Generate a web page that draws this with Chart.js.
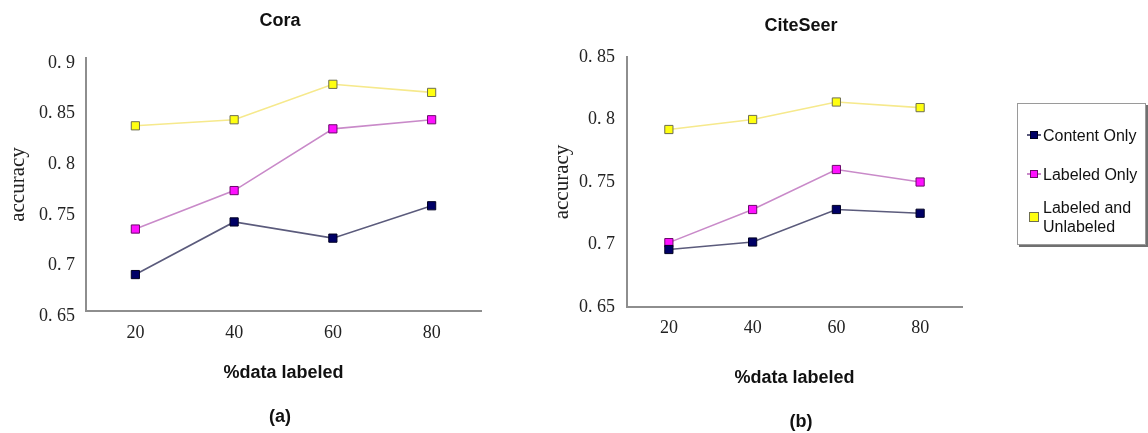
<!DOCTYPE html>
<html><head><meta charset="utf-8">
<script src="https://cdn.jsdelivr.net/npm/chart.js@4.4.1/dist/chart.umd.min.js"></script>
<style>
html,body{margin:0;padding:0;background:#fff;width:1148px;height:433px;overflow:hidden;position:relative}
#wa{position:absolute;left:0;top:0;width:560px;height:433px}
#wb{position:absolute;left:545px;top:0;width:512px;height:433px}
#legend{position:absolute;left:1017px;top:103px;width:127px;height:140px;border:1px solid #9a9a9a;box-shadow:2px 2px 0 #707070;background:#fff;font-family:"Liberation Sans",Arial,sans-serif;font-size:16px;color:#111}
.it{position:absolute;left:25px;line-height:19px}
.ln{position:absolute;height:2px}
.mk{position:absolute;width:8px;height:8px;box-sizing:border-box;border:1px solid #000}
</style></head><body>
<div id="wa"><canvas id="ca" width="560" height="433"></canvas></div>
<div id="wb"><canvas id="cb" width="512" height="433"></canvas></div>
<div id="legend"></div>
<script>
// ---- data ----
const categories = ['20', '40', '60', '80'];
const seriesNames = ['Content Only', 'Labeled Only', 'Labeled and Unlabeled'];
const coraContent = [0.686, 0.738, 0.722, 0.754];
const coraLabeled = [0.731, 0.769, 0.830, 0.839];
const coraBoth    = [0.833, 0.839, 0.874, 0.866];
const citeContent = [0.696, 0.702, 0.728, 0.725];
const citeLabeled = [0.7015, 0.728, 0.760, 0.750];
const citeBoth    = [0.792, 0.800, 0.814, 0.8095];
const coraTickValues = [0.65, 0.7, 0.75, 0.8, 0.85, 0.9];
const coraTickLabels = ['0. 65', '0. 7', '0. 75', '0. 8', '0. 85', '0. 9'];
const citeTickValues = [0.65, 0.7, 0.75, 0.8, 0.85];
const citeTickLabels = ['0. 65', '0. 7', '0. 75', '0. 8', '0. 85'];

// ---- styles ----
const styles = [
  {line: '#5b5b7c', fill: '#000066', border: '#000022'},
  {line: '#c98ac9', fill: '#ff10ff', border: '#6a0a6a'},
  {line: '#f6e98c', fill: '#ffff10', border: '#6e6e50'}
];
const serif = '"Liberation Serif", "DejaVu Serif", serif';
const sans = '"Liberation Sans", Arial, sans-serif';
const axisColor = '#8e8e8e';

function ds(values, i) {
  return {
    label: seriesNames[i], data: values,
    borderColor: styles[i].line, borderWidth: 1.6,
    backgroundColor: styles[i].fill,
    pointBackgroundColor: styles[i].fill, pointBorderColor: styles[i].border,
    pointBorderWidth: 1, pointStyle: 'rect', pointRadius: 5.8, tension: 0
  };
}

function makeChart(id, o) {
  return new Chart(document.getElementById(id), {
    type: 'line',
    data: { labels: categories, datasets: o.series.map((v, i) => ds(v, i)) },
    options: {
      responsive: false, animation: false,
      layout: { padding: 0 },
      plugins: {
        legend: { display: false }, tooltip: { enabled: false },
        title: { display: true, text: o.title, color: '#111',
          font: { family: sans, size: 18, weight: 'bold' },
          padding: { top: o.titleTop, bottom: o.titleBottom } },
        subtitle: { display: true, position: 'bottom', text: o.caption, color: '#111',
          font: { family: sans, size: 18, weight: 'bold' },
          padding: { top: 0, bottom: o.capBottom } }
      },
      scales: {
        x: {
          type: 'category', offset: true,
          grid: { display: false, drawTicks: false },
          border: { display: true, color: axisColor, width: 2 },
          ticks: { color: '#222', font: { family: serif, size: 18 }, padding: o.xTickPad, maxRotation: 0 },
          title: { display: true, text: '%data labeled', color: '#111',
            font: { family: sans, size: 18, weight: 'bold' },
            padding: { top: 0, bottom: o.xTitleBottom } },
          afterFit: s => { s.height = o.xHeight; }
        },
        y: {
          type: 'linear', position: 'left',
          min: o.ticks[0], max: o.ticks[o.ticks.length - 1],
          grid: { display: false, drawTicks: false },
          border: { display: true, color: axisColor, width: 2 },
          ticks: { color: '#222', font: { family: serif, size: 18 }, padding: o.yTickPad,
            labelOffset: o.labelOffset,
            callback: (v, idx) => o.tickLabels[idx] },
          afterBuildTicks: s => { s.ticks = o.ticks.map(v => ({ value: v })); },
          title: { display: true, text: 'accuracy', color: '#222',
            font: { family: serif, size: 21 },
            padding: { top: o.yTitleTop, bottom: 0 } },
          afterFit: s => { s.width = o.yWidth; }
        },
        pad: {
          type: 'linear', position: 'right', display: true,
          grid: { display: false, drawTicks: false }, border: { display: false },
          ticks: { display: false },
          afterFit: s => { s.width = o.rightWidth; }
        }
      }
    }
  });
}

makeChart('ca', {
  title: 'Cora', caption: '(a)', series: [coraContent, coraLabeled, coraBoth],
  ticks: coraTickValues, tickLabels: coraTickLabels,
  titleTop: 10.2, titleBottom: 26.2, capBottom: 5.2,
  xHeight: 95.2, xTickPad: 11, xTitleBottom: 22.4,
  yWidth: 86, yTickPad: 11, yTitleTop: 5.4, labelOffset: 5, rightWidth: 79
});
makeChart('cb', {
  title: 'CiteSeer', caption: '(b)', series: [citeContent, citeLabeled, citeBoth],
  ticks: citeTickValues, tickLabels: citeTickLabels,
  titleTop: 15.2, titleBottom: 20.2, capBottom: 0,
  xHeight: 104.4, xTickPad: 10, xTitleBottom: 22.6,
  yWidth: 82, yTickPad: 12, yTitleTop: 4.4, labelOffset: 0, rightWidth: 95
});

// ---- HTML legend ----
const lg = document.getElementById('legend');
const rows = [
  {text: 'Content Only', y: 31, line: true},
  {text: 'Labeled Only', y: 70, line: true},
  {text: 'Labeled and<br>Unlabeled', y: 113, line: false}
];
rows.forEach((r, i) => {
  if (r.line) {
    const l = document.createElement('div'); l.className = 'ln';
    l.style.cssText = `left:9px;width:14px;top:${r.y - 1}px;background:${styles[i].line}`;
    lg.appendChild(l);
  }
  const m = document.createElement('div'); m.className = 'mk';
  const sz = r.line ? 8 : 10;
  m.style.cssText = `left:${16 - sz / 2}px;top:${r.y - sz / 2}px;width:${sz}px;height:${sz}px;background:${styles[i].fill};border-color:${styles[i].border}`;
  lg.appendChild(m);
  const t = document.createElement('div'); t.className = 'it';
  t.innerHTML = r.text;
  const lines = r.text.split('<br>').length;
  t.style.top = (r.y - lines * 19 / 2) + 'px';
  lg.appendChild(t);
});
</script>
</body></html>
